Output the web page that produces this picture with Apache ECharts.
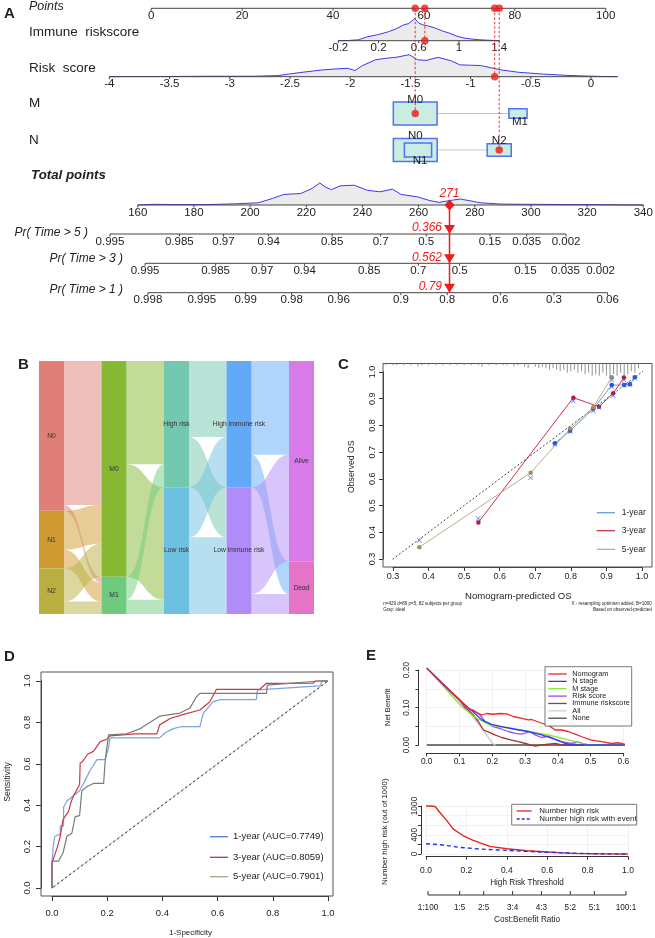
<!DOCTYPE html>
<html><head><meta charset="utf-8">
<script src="https://cdn.jsdelivr.net/npm/echarts@6/dist/echarts.min.js"></script>
<style>html,body{margin:0;padding:0;background:#fff;}#chart{width:655px;height:938px;}</style>
</head><body><div id="chart"></div>
<script>
// ======================= DATA =======================
// ---- Panel A: nomogram ----
const pointsTicks = [0, 20, 40, 60, 80, 100];
const immuneTicks = [-0.2, 0.2, 0.6, 1, 1.4];
const riskTicks = [-4, -3.5, -3, -2.5, -2, -1.5, -1, -0.5, 0];
const totalTicks = [160, 180, 200, 220, 240, 260, 280, 300, 320, 340];
const pr5Labels = ['0.995','0.985','0.97','0.94','0.85','0.7','0.5','0.15','0.035','0.002'];
const pr5AtTotal = [150.1, 174.8, 190.5, 206.6, 229.2, 246.5, 262.7, 285.4, 298.5, 312.5];
const pr3Labels = ['0.995','0.985','0.97','0.94','0.85','0.7','0.5','0.15','0.035','0.002'];
const pr3AtTotal = [162.6, 187.7, 204.3, 219.4, 242.4, 259.9, 274.6, 298.0, 312.3, 324.8];
const pr1Labels = ['0.998','0.995','0.99','0.98','0.96','0.9','0.8','0.6','0.3','0.06'];
const pr1AtTotal = [163.6, 182.8, 198.4, 214.8, 231.5, 253.7, 270.2, 289.1, 308.2, 327.3];
// points that each scale's end values are worth
const immuneEnds = [-0.2, 1.4], immunePts = [41.17, 76.57];
const riskEnds = [-4, 0], riskPts = [-9.20, 96.77];
const totalEnds = [160, 340], totalPts = [-2.95, 108.27];
const mLevels = ['M0', 'M1'], mPoints = [58.09, 80.7], mCounts = [366, 63];
const nLevels = ['N0', 'N1', 'N2'], nPoints = [58.1, 58.7, 76.57], nCounts = [254, 98, 77];
// densities (value, relative height)
const immuneDensX = [-0.2,-0.1,0,0.09,0.2,0.3,0.38,0.45,0.5,0.56,0.6,0.64,0.7,0.76,0.83,0.9,0.97,1.05,1.12,1.18,1.25,1.4];
const immuneDensH = [0,0.01,0.04,0.18,0.28,0.41,0.55,0.72,0.78,1.0,0.8,0.72,0.66,0.58,0.45,0.35,0.22,0.12,0.08,0.05,0.03,0];
const riskDensX = [-4,-3.86,-3.5,-3.17,-2.8,-2.6,-2.51,-2.4,-2.23,-2.1,-2.02,-1.96,-1.9,-1.79,-1.7,-1.61,-1.51,-1.44,-1.37,-1.27,-1.16,-1.09,-1.0,-0.92,-0.75,-0.6,-0.4,-0.2,-0.05,0.1,0.22];
const riskDensH = [0,0.01,0.01,0.02,0.02,0.05,0.12,0.2,0.31,0.36,0.38,0.28,0.5,0.77,0.84,0.89,1.0,0.77,0.74,0.88,0.72,0.54,0.52,0.51,0.31,0.2,0.12,0.06,0.03,0.01,0];
const totalDensX = [160,165,175,185,194,203,208,212,218,222,224.8,227,229,232,237,241.7,246.2,250.7,253.8,259.6,264,267.2,271,274.8,278,282,289.5,300,315,330,340];
const totalDensH = [0,0.03,0.02,0.02,0.05,0.1,0.3,0.48,0.52,0.75,1.0,0.8,0.7,0.87,0.9,0.67,0.6,0.72,0.48,0.37,0.2,0.12,0.2,0.27,0.2,0.1,0.04,0.03,0.02,0.01,0];
// the example patient
const patientImmune = 0.66, patientRisk = -0.8, patientM = 0, patientN = 2, patientTotal = 271;
const patientProbs = ['0.366', '0.562', '0.79'];

// ---- Panel B: alluvial ----
const sankeyNodes = ['N0','N1','N2','M0','M1','High risk','Low risk','High immune risk','Low immune risk','Alive','Dead'];
const sankeyColors = ['#DF7F78','#CF9A32','#B8AF40','#86B833','#6ECB7E','#74C8B0','#6DC0E0','#62AAF7','#AF8CF7','#D87BE9','#E573C6'];
const sankeyLinks = [
  ['N0','M0',244],['N0','M1',10],['N1','M0',66],['N1','M1',32],['N2','M0',56],['N2','M1',21],
  ['M0','High risk',175],['M0','Low risk',191],['M1','High risk',39],['M1','Low risk',24],
  ['High risk','High immune risk',129],['High risk','Low immune risk',85],['Low risk','High immune risk',85],['Low risk','Low immune risk',130],
  ['High immune risk','Alive',159],['High immune risk','Dead',55],['Low immune risk','Alive',181],['Low immune risk','Dead',34]
];

// ---- Panel C: calibration ----
const cal1Year = [[0.755,0.733],[0.798,0.78],[0.863,0.862],[0.915,0.951],[0.95,0.951],[0.966,0.954],[0.98,0.98]];
const cal3Year = [[0.54,0.437],[0.807,0.904],[0.879,0.870],[0.919,0.920],[0.949,0.979]];
const cal5Year = [[0.374,0.344],[0.687,0.623],[0.798,0.788],[0.863,0.868],[0.915,0.980]];
const calCorrected = [[0.374,0.369],[0.54,0.452],[0.687,0.604],[0.755,0.73],[0.798,0.777],[0.807,0.891],[0.863,0.855],[0.879,0.868],[0.919,0.911],[0.915,0.97],[0.915,0.945],[0.95,0.97],[0.95,0.951],[0.966,0.953],[0.98,0.978]];
const rugX = [0.28,0.30,0.31,0.33,0.35,0.37,0.38,0.40,0.42,0.44,0.46,0.48,0.50,0.52,0.54,0.55,0.57,0.59,0.61,0.62,0.64,0.65,0.67,0.68,0.70,0.71,0.72,0.73,0.74,0.75,0.76,0.77,0.78,0.79,0.80,0.81,0.82,0.83,0.84,0.85,0.86,0.87,0.88,0.89,0.90,0.91,0.92,0.93,0.94,0.95,0.96,0.97,0.98,0.99];
const rugN = [1,1,1,1,1,2,1,1,1,1,1,1,1,1,1,2,1,1,1,1,2,1,2,3,2,3,2,3,4,3,4,5,4,6,5,4,6,5,7,6,8,7,8,6,8,9,7,8,6,8,7,5,6,3];

// ---- Panel D: ROC ----
const roc1Year = [[0,0],[0,0.12],[0.005,0.21],[0.01,0.25],[0.03,0.26],[0.03,0.30],[0.042,0.30],[0.042,0.39],[0.054,0.42],[0.072,0.44],[0.1,0.47],[0.12,0.52],[0.139,0.57],[0.163,0.62],[0.193,0.62],[0.205,0.68],[0.21,0.725],[0.3,0.725],[0.39,0.725],[0.41,0.75],[0.44,0.77],[0.47,0.78],[0.536,0.78],[0.548,0.844],[0.584,0.9],[0.61,0.91],[0.74,0.91],[0.745,0.957],[0.97,0.976],[0.98,1],[1,1]];
const roc3Year = [[0,0],[0,0.12],[0.01,0.16],[0.02,0.2],[0.03,0.25],[0.04,0.33],[0.06,0.37],[0.07,0.42],[0.08,0.45],[0.1,0.5],[0.102,0.603],[0.11,0.61],[0.129,0.646],[0.15,0.66],[0.175,0.707],[0.2,0.72],[0.21,0.735],[0.3,0.745],[0.38,0.745],[0.39,0.788],[0.43,0.82],[0.48,0.84],[0.536,0.86],[0.572,0.9],[0.596,0.96],[0.753,0.96],[0.777,0.989],[0.946,0.99],[0.955,1],[1,1]];
const roc5Year = [[0,0],[0,0.13],[0.024,0.13],[0.04,0.17],[0.054,0.25],[0.072,0.265],[0.084,0.345],[0.1,0.35],[0.108,0.47],[0.127,0.49],[0.15,0.505],[0.187,0.505],[0.193,0.62],[0.205,0.74],[0.27,0.745],[0.32,0.77],[0.39,0.83],[0.464,0.845],[0.5,0.87],[0.524,0.925],[0.536,0.94],[0.777,0.94],[0.78,0.98],[0.97,1],[1,1]];
const rocNames = ['1-year (AUC=0.7749)', '3-year (AUC=0.8059)', '5-year (AUC=0.7901)'];

// ---- Panel E: decision curves ----
const dcaNomogram = [[0,0.205],[0.05,0.162],[0.097,0.124],[0.127,0.098],[0.147,0.089],[0.168,0.08],[0.183,0.084],[0.203,0.082],[0.224,0.084],[0.244,0.083],[0.264,0.076],[0.29,0.071],[0.31,0.067],[0.32,0.068],[0.351,0.058],[0.371,0.053],[0.392,0.04],[0.412,0.04],[0.432,0.036],[0.453,0.029],[0.473,0.022],[0.503,0.013],[0.534,0.009],[0.564,0.004],[0.585,0.006],[0.6,0.003],[0.62,0]];
const dcaNStage = [[0,0.205],[0.05,0.162],[0.1,0.12],[0.117,0.107],[0.147,0.084],[0.168,0.067],[0.198,0.055],[0.229,0.049],[0.27,0.042],[0.31,0.036],[0.351,0.027],[0.392,0.015],[0.422,0.004],[0.442,0],[0.62,0]];
const dcaMStage = [[0,0.205],[0.066,0.142],[0.107,0.102],[0.147,0.074],[0.193,0.053],[0.27,0.042],[0.371,0.027],[0.453,0.009],[0.488,0],[0.62,0]];
const dcaRisk = [[0,0.205],[0.05,0.162],[0.1,0.12],[0.117,0.098],[0.142,0.093],[0.163,0.08],[0.178,0.062],[0.203,0.049],[0.224,0.044],[0.249,0.036],[0.27,0.031],[0.29,0.029],[0.315,0.036],[0.33,0.027],[0.351,0.02],[0.371,0.024],[0.392,0.015],[0.412,0.009],[0.442,0.004],[0.463,0.008],[0.483,0.002],[0.5,0],[0.62,0]];
const dcaImmune = [[0,0.205],[0.05,0.162],[0.1,0.12],[0.117,0.102],[0.142,0.08],[0.158,0.062],[0.173,0.04],[0.193,0.033],[0.208,0.027],[0.229,0.02],[0.259,0.013],[0.28,0.009],[0.31,0.002],[0.33,-0.003],[0.351,0],[0.392,0.004],[0.412,0],[0.62,0]];
const dcaAll = [[0,0.205],[0.04,0.172],[0.08,0.136],[0.12,0.097],[0.16,0.054],[0.2,0.006],[0.21,-0.002]];
const dcaNone = [[0,0],[0.62,0]];
const dcaNames = ['Nomogram','N stage','M stage','Risk score','Immune riskscore','All','None'];
const nHighRisk = [[0,1000],[0.02,1000],[0.045,990],[0.07,860],[0.1,710],[0.135,517],[0.185,380],[0.234,283],[0.316,159],[0.4,110],[0.5,69],[0.6,41],[0.73,14],[0.85,5],[1,0]];
const nHighRiskEvent = [[0,214],[0.07,193],[0.168,138],[0.267,103],[0.4,76],[0.563,41],[0.81,7],[1,0]];
const costBenefitLabels = ['1:100','1:5','2:5','3:4','4:3','5:2','5:1','100:1'];
const costBenefitRatios = [0.01, 0.2, 0.4, 0.75, 4/3, 2.5, 5, 100];

// ======================= LAYOUT / STYLE =======================
const FONT = '"Liberation Sans", Arial, Helvetica, sans-serif';
const fnt = (s, b, i) => (i ? 'italic ' : '') + (b ? 'bold ' : '') + s + 'px ' + FONT;
const ROW = {points: 8.3, immune: 40.7, risk: 76.7, M: 113.5, N: 150, total: 205, pr5: 234, pr3: 263.3, pr1: 292.7};
const DENS_H = 22, BOX_W = 43.8, BOX_H = 22.8;
const RED = '#EE1C1C';

function lin(v, ends, pts) { return pts[0] + (v - ends[0]) * (pts[1] - pts[0]) / (ends[1] - ends[0]); }
const immP = v => lin(v, immuneEnds, immunePts);
const riskP = v => lin(v, riskEnds, riskPts);
const totP = v => lin(v, totalEnds, totalPts);

// ---- nomogram axis lines and ticks ----
const axisLines = [
  [0, 100, ROW.points],
  [immP(immuneTicks[0]), immP(immuneTicks[immuneTicks.length - 1]), ROW.immune],
  [riskP(-4), riskP(0.22), ROW.risk],
  [totP(160), totP(340), ROW.total],
  [totP(pr5AtTotal[0]), totP(pr5AtTotal[9]), ROW.pr5],
  [totP(pr3AtTotal[0]), totP(pr3AtTotal[9]), ROW.pr3],
  [totP(pr1AtTotal[0]), totP(pr1AtTotal[9]), ROW.pr1]
];
const tickItems = [];
pointsTicks.forEach(t => tickItems.push([t, ROW.points, String(t)]));
immuneTicks.forEach(t => tickItems.push([immP(t), ROW.immune, String(t)]));
riskTicks.forEach(t => tickItems.push([riskP(t), ROW.risk, String(t)]));
totalTicks.forEach(t => tickItems.push([totP(t), ROW.total, String(t)]));
pr5AtTotal.forEach((t, i) => tickItems.push([totP(t), ROW.pr5, pr5Labels[i]]));
pr3AtTotal.forEach((t, i) => tickItems.push([totP(t), ROW.pr3, pr3Labels[i]]));
pr1AtTotal.forEach((t, i) => tickItems.push([totP(t), ROW.pr1, pr1Labels[i]]));

const densities = [
  {x: immuneDensX, h: immuneDensH, f: immP, y: ROW.immune},
  {x: riskDensX, h: riskDensH, f: riskP, y: ROW.risk},
  {x: totalDensX, h: totalDensH, f: totP, y: ROW.total}
];

const boxes = [];
mLevels.forEach((l, i) => boxes.push({p: mPoints[i], y: ROW.M, n: mCounts[i], max: Math.max(...mCounts), label: l, pos: i === 0 ? 'top' : 'bottom'}));
nLevels.forEach((l, i) => boxes.push({p: nPoints[i], y: ROW.N, n: nCounts[i], max: Math.max(...nCounts), label: l, pos: i === 1 ? 'bottom' : 'top'}));

const patientPts = [immP(patientImmune), riskP(patientRisk), mPoints[patientM], nPoints[patientN]];
const patientRows = [ROW.immune, ROW.risk, ROW.M, ROW.N];

// ======================= OPTION =======================
const gridBase = {show: false, containLabel: false, outerBoundsMode: 'none'};
const grids = [
  {left: 151.2, top: 0, width: 454.5, height: 310},
  {left: 393, top: 372, width: 249, height: 187},
  {left: 52, top: 681, width: 276, height: 207},
  {left: 426.7, top: 670, width: 196.7, height: 75},
  {left: 426, top: 806, width: 202, height: 48}
].map(g => Object.assign({}, gridBase, g));

function xAx(gi, min, max, interval, offset, fmt, size, margin, tickLen, split) {
  return {type: 'value', gridIndex: gi, min, max, interval, offset, position: 'bottom',
    axisLine: {show: true, onZero: false, lineStyle: {color: '#333', width: 1}},
    axisTick: {show: true, length: tickLen, lineStyle: {color: '#333', width: 1}},
    axisLabel: {show: true, formatter: fmt, fontSize: size, fontFamily: FONT, color: '#222', margin, showMinLabel: true, showMaxLabel: true},
    splitLine: {show: !!split, lineStyle: {color: '#EDEDED', width: 0.8}}};
}
function yAx(gi, min, max, interval, offset, fmt, size, margin, tickLen, split) {
  const a = xAx(gi, min, max, interval, offset, fmt, size, margin, tickLen, split);
  a.position = 'left';
  a.axisLabel.rotate = 90;
  return a;
}
const f1 = v => v.toFixed(1);

const xAxes = [
  {type: 'value', gridIndex: 0, min: 0, max: 100, show: false},
  xAx(1, 0.3, 1.0, 0.1, 8, f1, 9, 5, 4, false),
  xAx(2, 0, 1, 0.2, 8, f1, 9.5, 12, 5, false),
  xAx(3, 0, 0.6, 0.1, 8.3, f1, 8.4, 4.5, 3, true),
  xAx(4, 0, 1, 0.2, 2.7, f1, 8.5, 9, 3, true)
];
const yAxes = [
  {type: 'value', gridIndex: 0, min: 0, max: 310, inverse: true, show: false},
  yAx(1, 0.3, 1.0, 0.1, 10, f1, 9, 6, 4, false),
  yAx(2, 0, 1, 0.2, 11, f1, 9.5, 9, 5, false),
  yAx(3, 0, 0.2, 0.05, 8.3, v => (Math.abs(v * 10 - Math.round(v * 10)) < 1e-6 ? v.toFixed(2) : ''), 8.4, 8, 3, true),
  yAx(4, 0, 1000, 200, 5, v => ([0, 400, 1000].indexOf(Math.round(v)) >= 0 ? String(Math.round(v)) : ''), 8.4, 2.5, 3, true)
];

const series = [];
// --- Panel A ---
series.push({type: 'custom', xAxisIndex: 0, yAxisIndex: 0, clip: false, silent: true, z: 3,
  data: densities.map((d, i) => [i, d.y]),
  renderItem: (params, api) => {
    const d = densities[params.dataIndex];
    const pts = d.x.map((v, k) => api.coord([d.f(v), d.y - d.h[k] * DENS_H]));
    const poly = [api.coord([d.f(d.x[0]), d.y])].concat(pts, [api.coord([d.f(d.x[d.x.length - 1]), d.y])]);
    return {type: 'group', children: [
      {type: 'polygon', shape: {points: poly}, style: {fill: '#EBEBEB', stroke: null}},
      {type: 'polyline', shape: {points: pts}, style: {fill: null, stroke: '#3A3AF2', lineWidth: 1}}
    ]};
  }});
series.push({type: 'custom', xAxisIndex: 0, yAxisIndex: 0, clip: false, silent: true, z: 4,
  data: axisLines,
  renderItem: (params, api) => {
    const a = api.coord([api.value(0), api.value(2)]), b = api.coord([api.value(1), api.value(2)]);
    return {type: 'line', shape: {x1: a[0], y1: a[1], x2: b[0], y2: b[1]}, style: {stroke: '#444', lineWidth: 1}};
  }});
series.push({type: 'custom', xAxisIndex: 0, yAxisIndex: 0, clip: false, silent: true, z: 4,
  data: tickItems.map(t => [t[0], t[1]]),
  renderItem: (params, api) => {
    const p = api.coord([api.value(0), api.value(1)]);
    return {type: 'group', children: [
      {type: 'line', shape: {x1: p[0], y1: p[1], x2: p[0], y2: p[1] + 2.5}, style: {stroke: '#444', lineWidth: 1}},
      {type: 'text', style: {text: tickItems[params.dataIndex][2], x: p[0], y: p[1] + 7.5, align: 'center', verticalAlign: 'middle', textAlign: 'center', textVerticalAlign: 'middle', font: fnt(11.5), fill: '#222'}}
    ]};
  }});
// connectors between category boxes
series.push({type: 'custom', xAxisIndex: 0, yAxisIndex: 0, clip: false, silent: true, z: 3,
  data: [[mPoints[0], mPoints[1], ROW.M], [nPoints[0], nPoints[2], ROW.N]],
  renderItem: (params, api) => {
    const a = api.coord([api.value(0), api.value(2)]), b = api.coord([api.value(1), api.value(2)]);
    return {type: 'line', shape: {x1: a[0], y1: a[1], x2: b[0], y2: b[1]}, style: {stroke: '#C4C4C4', lineWidth: 1}};
  }});
series.push({type: 'custom', xAxisIndex: 0, yAxisIndex: 0, clip: false, silent: true, z: 5,
  data: boxes.map(b => [b.p, b.y]),
  renderItem: (params, api) => {
    const b = boxes[params.dataIndex];
    const c = api.coord([b.p, b.y]);
    const s = Math.sqrt(b.n / b.max), w = BOX_W * s, h = BOX_H * s;
    const ly = b.pos === 'top' ? c[1] - h / 2 - 2.5 : c[1] + h / 2 + 4;
    return {type: 'group', children: [
      {type: 'rect', shape: {x: c[0] - w / 2, y: c[1] - h / 2, width: w, height: h}, style: {fill: '#C9EDE2', stroke: '#5670F0', lineWidth: 1.5}},
      {type: 'text', z2: 10, style: {text: b.label, x: c[0] + (b.label === 'M1' || b.label === 'N1' ? 2 : 0), y: ly, align: 'center', verticalAlign: 'middle', textAlign: 'center', textVerticalAlign: 'middle', font: fnt(11.5), fill: '#222'}}
    ]};
  }});
// patient dashed lines
series.push({type: 'custom', xAxisIndex: 0, yAxisIndex: 0, clip: false, silent: true, z: 6,
  data: patientPts.map((p, i) => [p, patientRows[i]]),
  renderItem: (params, api) => {
    const a = api.coord([api.value(0), ROW.points]), b = api.coord([api.value(0), api.value(1)]);
    return {type: 'line', shape: {x1: a[0], y1: a[1], x2: b[0], y2: b[1]}, style: {stroke: RED, lineWidth: 0.9, lineDash: [2.5, 2]}};
  }});
series.push({type: 'scatter', xAxisIndex: 0, yAxisIndex: 0, clip: false, silent: true, z: 7, symbol: 'circle', symbolSize: 7.5,
  itemStyle: {color: RED},
  data: patientPts.map((p, i) => [p, patientRows[i]]).concat(patientPts.map(p => [p, ROW.points]))});
// total points and probabilities
series.push({type: 'custom', xAxisIndex: 0, yAxisIndex: 0, clip: false, silent: true, z: 8,
  data: [[totP(patientTotal), ROW.total]],
  renderItem: (params, api) => {
    const t = api.coord([api.value(0), ROW.total]);
    const rows = [ROW.pr5, ROW.pr3, ROW.pr1];
    const ch = [];
    const bottom = api.coord([api.value(0), ROW.pr1]);
    ch.push({type: 'line', shape: {x1: t[0], y1: t[1], x2: bottom[0], y2: bottom[1]}, style: {stroke: RED, lineWidth: 1.5}});
    ch.push({type: 'polygon', shape: {points: [[t[0], t[1] - 5.5], [t[0] + 5, t[1]], [t[0], t[1] + 5.5], [t[0] - 5, t[1]]]}, style: {fill: RED}});
    ch.push({type: 'text', style: {text: String(patientTotal), x: t[0], y: t[1] - 11.5, align: 'center', verticalAlign: 'middle', textAlign: 'center', textVerticalAlign: 'middle', font: fnt(12, false, true), fill: RED}});
    rows.forEach((r, i) => {
      const q = api.coord([api.value(0), r]);
      ch.push({type: 'polygon', shape: {points: [[q[0] - 5.5, q[1] - 9], [q[0] + 5.5, q[1] - 9], [q[0], q[1]]]}, style: {fill: RED}});
      ch.push({type: 'text', style: {text: patientProbs[i], x: q[0] - 7.5, y: q[1] - 6, align: 'right', verticalAlign: 'middle', textAlign: 'right', textVerticalAlign: 'middle', font: fnt(12, false, true), fill: RED}});
    });
    return {type: 'group', children: ch};
  }});

// --- Panel B: sankey ---
series.push({type: 'sankey', left: 39, top: 361, width: 275, height: 253, nodeWidth: 25, nodeGap: 0,
  layoutIterations: 0, nodeAlign: 'left', draggable: false, silent: true,
  emphasis: {disabled: true},
  data: sankeyNodes.map((n, i) => ({name: n, itemStyle: {color: sankeyColors[i], borderWidth: 0}})),
  links: sankeyLinks.map(l => ({source: l[0], target: l[1], value: l[2]})),
  lineStyle: {color: 'source', opacity: 0.5, curveness: 0.5},
  label: {show: true, position: 'inside', fontSize: 6.8, fontFamily: FONT, color: '#333', textBorderWidth: 0}
});

// --- Panel C: calibration ---
series.push({type: 'line', xAxisIndex: 1, yAxisIndex: 1, clip: false, silent: true, symbol: 'none', z: 2,
  data: [[0.272, 0.272], [1.028, 1.028]], lineStyle: {color: '#3A4A4A', width: 1, type: [2, 2]}});
series.push({type: 'custom', xAxisIndex: 1, yAxisIndex: 1, clip: false, silent: true, z: 2,
  data: rugX.map((x, i) => [x, rugN[i]]),
  renderItem: (params, api) => {
    const a = api.coord([api.value(0), 1.034]);
    return {type: 'line', shape: {x1: a[0], y1: a[1], x2: a[0], y2: a[1] + api.value(1) * 1.5 + 0.8}, style: {stroke: '#777', lineWidth: 0.8}};
  }});
[[cal1Year, '#6A9BD8', '#2E4FD0'], [cal3Year, '#C8324A', '#B01E3C'], [cal5Year, '#B8AE8C', '#9C8F5E']].forEach(c => {
  series.push({type: 'line', xAxisIndex: 1, yAxisIndex: 1, clip: false, silent: true, z: 3,
    data: c[0], symbol: 'circle', symbolSize: 4.5, showSymbol: true,
    lineStyle: {color: c[1], width: 1}, itemStyle: {color: c[2]}});
});
series.push({type: 'scatter', xAxisIndex: 1, yAxisIndex: 1, clip: false, silent: true, z: 4,
  symbol: 'path://M0,1L1,0L5,4L9,0L10,1L6,5L10,9L9,10L5,6L1,10L0,9L4,5Z', symbolSize: 5,
  itemStyle: {color: '#3B5BF0'}, data: calCorrected});

// --- Panel D: ROC ---
series.push({type: 'line', xAxisIndex: 2, yAxisIndex: 2, clip: false, silent: true, symbol: 'none', z: 2,
  data: [[-0.04, -0.04], [1.02, 1.02]], lineStyle: {color: '#222', width: 1, type: [3, 2]}});
const rocColors = ['#7AA3DE', '#C83A48', '#787D70'];
[roc1Year, roc3Year, roc5Year].forEach((d, i) => {
  series.push({type: 'line', xAxisIndex: 2, yAxisIndex: 2, clip: false, silent: true, symbol: 'none', z: 3 + (i === 0 ? 0 : i),
    data: d, lineStyle: {color: rocColors[i], width: 1.2}});
});

// --- Panel E top: decision curves ---
const dcaColors = ['#F02626', '#2B3FF0', '#86E62A', '#A646F2', '#A33434', '#CDCDCD', '#4A4A4A'];
[dcaNomogram, dcaNStage, dcaMStage, dcaRisk, dcaImmune, dcaAll, dcaNone].forEach((d, i) => {
  series.push({type: 'line', xAxisIndex: 3, yAxisIndex: 3, clip: false, silent: true, symbol: 'none', z: 10 - i,
    data: d, lineStyle: {color: dcaColors[i], width: 1.3}});
});
// --- Panel E bottom: clinical impact ---
series.push({type: 'line', xAxisIndex: 4, yAxisIndex: 4, clip: false, silent: true, symbol: 'none', z: 4,
  data: nHighRisk, lineStyle: {color: '#E82424', width: 1.4}});
series.push({type: 'line', xAxisIndex: 4, yAxisIndex: 4, clip: false, silent: true, symbol: 'none', z: 5,
  data: nHighRiskEvent, lineStyle: {color: '#2333F0', width: 1.4, type: [4, 3]}});
series.push({type: 'custom', xAxisIndex: 4, yAxisIndex: 4, clip: false, silent: true, z: 5,
  data: [[0, 0]],
  renderItem: (params, api) => {
    const ts = costBenefitRatios.map(r => r / (1 + r));
    const ch = [];
    const a = api.coord([ts[0], 0]), b = api.coord([ts[ts.length - 1], 0]);
    const y = a[1] + 41;
    ch.push({type: 'line', shape: {x1: a[0], y1: y, x2: b[0], y2: y}, style: {stroke: '#333', lineWidth: 1}});
    ts.forEach((t, i) => {
      const p = api.coord([t, 0]);
      ch.push({type: 'line', shape: {x1: p[0], y1: y, x2: p[0], y2: y - 4}, style: {stroke: '#333', lineWidth: 1}});
      ch.push({type: 'text', style: {text: costBenefitLabels[i], x: p[0], y: y + 13, align: 'center', verticalAlign: 'middle', textAlign: 'center', textVerticalAlign: 'middle', font: fnt(8.2), fill: '#222'}});
    });
    return {type: 'group', children: ch};
  }});

// ======================= GRAPHIC (labels, legends, frames) =======================
function T(text, x, y, size, o) {
  o = o || {};
  const al = o.align || 'left', va = o.va || 'middle';
  return {type: 'text', x, y, rotation: o.rot || 0, silent: true, z: 100,
    style: {text, fill: o.color || '#222', font: fnt(size, o.bold, o.italic), align: al, verticalAlign: va, textAlign: al, textVerticalAlign: va}};
}
function L(x1, y1, x2, y2, color, w, dash) {
  return {type: 'line', silent: true, z: 100, shape: {x1, y1, x2, y2}, style: {stroke: color, lineWidth: w || 1, lineDash: dash || null}};
}
function R(x, y, w, h, stroke, lw) {
  return {type: 'rect', silent: true, z: 1, shape: {x, y, width: w, height: h}, style: {fill: null, stroke, lineWidth: lw || 1}};
}
const g = [];
// panel letters
g.push(T('A', 4, 14, 15, {bold: true}));
g.push(T('B', 18, 365, 15, {bold: true}));
g.push(T('C', 338, 365, 15, {bold: true}));
g.push(T('D', 4, 657, 15, {bold: true}));
g.push(T('E', 366, 656, 15, {bold: true}));
// panel A row labels
g.push(T('Points', 29, 6.5, 12.5, {italic: true}));
g.push(T('Immune  riskscore', 29, 32, 13.5));
g.push(T('Risk  score', 29, 68.5, 13.5));
g.push(T('M', 29, 103.5, 13.5));
g.push(T('N', 29, 140.5, 13.5));
g.push(T('Total points', 31, 175, 13.3, {bold: true, italic: true}));
g.push(T('Pr( Time > 5 )', 88, 232.5, 12, {italic: true, align: 'right'}));
g.push(T('Pr( Time > 3 )', 123, 258.5, 12, {italic: true, align: 'right'}));
g.push(T('Pr( Time > 1 )', 123, 290, 12, {italic: true, align: 'right'}));
// panel C frame, titles, legend, notes
g.push(R(383, 363.5, 269, 203.5, '#555', 1));
g.push(T('Observed OS', 352, 466.7, 8.7, {rot: Math.PI / 2, align: 'center'}));
g.push(T('Nomogram-predicted OS', 518.3, 596.7, 9.6, {align: 'center'}));
g.push(T('n=429 d=89 p=5, 82 subjects per group', 383.3, 604, 4.5));
g.push(T('Gray: ideal', 383.3, 609.3, 4.5));
g.push(T('X - resampling optimism added, B=1000', 651.7, 604, 4.5, {align: 'right'}));
g.push(T('Based on observed-predicted', 651.7, 609.3, 4.5, {align: 'right'}));
['1-year', '3-year', '5-year'].forEach((n, i) => {
  const y = [512.7, 530.7, 549.3][i];
  g.push(L(596.7, y, 615, y, ['#6A9BD8', '#C8324A', '#B8AE8C'][i], 1.3));
  g.push(T(n, 621.7, y, 8.5));
});
// panel D frame, titles, legend
g.push(R(41, 672, 292, 224, '#555', 1));
g.push(T('Sensitivity', 8, 782, 8.8, {rot: Math.PI / 2, align: 'center'}));
g.push(T('1-Specificity', 190.5, 932.3, 8, {align: 'center'}));
rocNames.forEach((n, i) => {
  const y = [836.7, 857.3, 876.7][i];
  g.push(L(210, y, 228, y, ['#4C7FD0', '#C8323F', '#A8A37E'][i], 1.3));
  g.push(T(n, 233, y, 9.5));
});
// panel E top titles & legend
g.push(T('Net Benefit', 388.3, 707.3, 7.6, {rot: Math.PI / 2, align: 'center'}));
g.push({type: 'rect', silent: true, z: 90, shape: {x: 545, y: 666.7, width: 86.7, height: 59.3}, style: {fill: '#fff', stroke: '#555', lineWidth: 0.8}});
dcaNames.forEach((n, i) => {
  const y = 674 + i * 7.37;
  g.push(L(548.3, y, 566.7, y, dcaColors[i], 1.3));
  g.push(T(n, 572.3, y, 7.3));
});
// panel E bottom titles & legend
g.push(T('Number high risk (out of 1000)', 385, 831.7, 7.9, {rot: Math.PI / 2, align: 'center'}));
g.push(T('High Risk Threshold', 527, 882.3, 8.2, {align: 'center'}));
g.push(T('Cost:Benefit Ratio', 527, 919.3, 8.2, {align: 'center'}));
g.push({type: 'rect', silent: true, z: 90, shape: {x: 511.7, y: 804.3, width: 125, height: 20.7}, style: {fill: '#fff', stroke: '#555', lineWidth: 0.8}});
g.push(L(516.7, 811, 531.7, 811, '#E82424', 1.3));
g.push(T('Number high risk', 539.3, 811, 7.9));
g.push(L(516.7, 819, 531.7, 819, '#2333F0', 1.3, [3, 2]));
g.push(T('Number high risk with event', 539.3, 819, 7.9));

const option = {
  animation: false,
  backgroundColor: '#ffffff',
  textStyle: {fontFamily: FONT},
  grid: grids,
  xAxis: xAxes,
  yAxis: yAxes,
  series: series,
  graphic: {elements: g}
};
const chart = echarts.init(document.getElementById('chart'), null, {renderer: 'canvas'});
chart.setOption(option);
</script>
</body></html>
